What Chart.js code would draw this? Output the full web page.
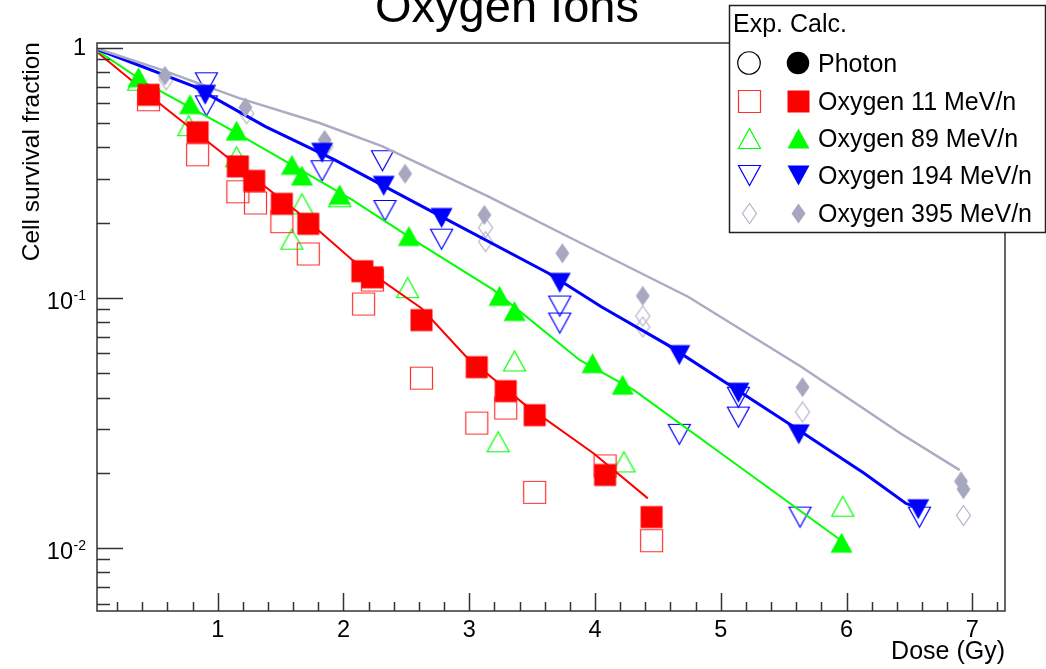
<!DOCTYPE html>
<html>
<head>
<meta charset="utf-8">
<title>Oxygen Ions</title>
<script src="https://cdn.jsdelivr.net/npm/chart.js@4.4.1/dist/chart.umd.min.js"></script>
<style>
  html, body { margin: 0; padding: 0; background: #fff; }
  canvas { display: block; }
</style>
</head>
<body>
<canvas id="survival-chart" width="1046" height="669"></canvas>
<script>
// Values (dose in Gy, survival fraction).
const chartTitle = "Oxygen Ions";
const xTitle = "Dose (Gy)";
const yTitle = "Cell survival fraction";
const xTickLabels = [1, 2, 3, 4, 5, 6, 7];
const yTickDecades = [0, -1, -2];
const legendHeader = "Exp. Calc.";
const legendLabels = ["Photon", "Oxygen 11 MeV/n", "Oxygen 89 MeV/n", "Oxygen 194 MeV/n", "Oxygen 395 MeV/n"];

// Oxygen 11 MeV/n
const o11ExpDose = [0.45, 0.84, 1.16, 1.30, 1.51, 1.72, 2.16, 2.23, 2.62, 3.06, 3.29, 3.52, 4.08, 4.45];
const o11ExpSurv = [0.621, 0.374, 0.266, 0.240, 0.202, 0.150, 0.0946, 0.118, 0.0478, 0.0316, 0.0363, 0.0167, 0.0213, 0.0107];
const o11CalcDose = [0.45, 0.84, 1.16, 1.29, 1.51, 1.72, 2.15, 2.23, 2.62, 3.06, 3.29, 3.52, 4.08, 4.45];
const o11CalcSurv = [0.650, 0.460, 0.336, 0.294, 0.238, 0.198, 0.128, 0.121, 0.0816, 0.0529, 0.0424, 0.0340, 0.0196, 0.0133];
const o11CurveDose = [0.05, 0.55, 1.07, 1.63, 2.07, 2.62, 2.97, 3.43, 3.99, 4.42];
const o11CurveSurv = [0.955, 0.593, 0.368, 0.222, 0.142, 0.0910, 0.0586, 0.0379, 0.0239, 0.0158];

// Oxygen 89 MeV/n
const o89ExpDose = [0.37, 0.77, 1.15, 1.59, 1.67, 1.97, 2.51, 3.23, 3.36, 4.23, 5.97];
const o89ExpSurv = [0.743, 0.489, 0.367, 0.172, 0.238, 0.254, 0.110, 0.0266, 0.0560, 0.0221, 0.0147];
const o89CalcDose = [0.37, 0.78, 1.15, 1.59, 1.67, 1.97, 2.52, 3.24, 3.36, 3.98, 4.22, 5.96];
const o89CalcSurv = [0.764, 0.596, 0.467, 0.341, 0.309, 0.259, 0.177, 0.102, 0.0887, 0.0549, 0.0450, 0.0105];
const o89CurveDose = [0.05, 0.45, 1.06, 1.52, 2.07, 2.62, 3.19, 3.88, 4.31, 5.08, 5.96];
const o89CurveSurv = [0.969, 0.713, 0.485, 0.357, 0.247, 0.163, 0.108, 0.0564, 0.0428, 0.0224, 0.0107];

// Oxygen 194 MeV/n
const o194ExpDose = [0.91, 0.91, 1.83, 2.31, 2.33, 2.78, 3.72, 3.72, 4.67, 5.14, 5.14, 5.63, 6.58];
const o194ExpSurv = [0.726, 0.587, 0.323, 0.354, 0.224, 0.172, 0.0929, 0.0794, 0.0285, 0.0401, 0.0334, 0.0133, 0.0133];
const o194CalcDose = [0.90, 1.83, 2.32, 2.78, 3.72, 4.67, 5.14, 5.62, 6.57];
const o194CalcSurv = [0.650, 0.381, 0.281, 0.209, 0.115, 0.0591, 0.0418, 0.0285, 0.0143];
const o194CurveDose = [0.05, 0.81, 1.38, 1.93, 2.70, 3.63, 4.05, 4.58, 5.05, 5.54, 6.14, 6.47, 6.53];
const o194CurveSurv = [0.984, 0.702, 0.485, 0.357, 0.222, 0.1256, 0.0923, 0.0648, 0.0455, 0.0315, 0.0199, 0.0151, 0.0147];

// Oxygen 395 MeV/n
const o395ExpDose = [0.59, 1.23, 1.86, 3.13, 3.13, 4.38, 4.38, 5.65, 6.93];
const o395ExpSurv = [0.746, 0.546, 0.403, 0.191, 0.168, 0.0847, 0.0766, 0.0350, 0.0135];
const o395CalcDose = [0.58, 1.22, 1.85, 2.49, 3.12, 3.74, 4.38, 5.65, 6.91, 6.93];
const o395CalcSurv = [0.774, 0.579, 0.429, 0.314, 0.215, 0.151, 0.102, 0.0440, 0.0185, 0.0172];
const o395CurveDose = [0.05, 0.55, 1.17, 1.81, 2.31, 3.15, 3.89, 4.74, 5.64, 6.43, 6.90];
const o395CurveSurv = [0.991, 0.819, 0.630, 0.501, 0.404, 0.255, 0.1656, 0.1012, 0.0531, 0.0287, 0.0205];

const FONT = '"Liberation Sans", Arial, Helvetica, sans-serif';
const RED = "#ff0000", GREEN = "#00ff00", BLUE = "#0000ff", GREY = "#a7a7bf";

function makeMarker(shape, w, h, color, filled) {
    // ROOT-like marker drawn once into a small canvas, used as a pointStyle.
    const c = document.createElement("canvas");
    c.width = w + 4;
    c.height = h + 4;
    const g = c.getContext("2d");
    g.translate(2, 2);
    g.beginPath();
    if (shape === "square") {
        g.rect(0.5, 0.5, w - 1, h - 1);
    } else if (shape === "up") {
        g.moveTo(w / 2, 0.5); g.lineTo(w - 0.5, h - 0.5); g.lineTo(0.5, h - 0.5); g.closePath();
    } else if (shape === "down") {
        g.moveTo(0.5, 0.5); g.lineTo(w - 0.5, 0.5); g.lineTo(w / 2, h - 0.5); g.closePath();
    } else if (shape === "diamond") {
        g.moveTo(w / 2, 0.5); g.lineTo(w - 0.5, h / 2); g.lineTo(w / 2, h - 0.5); g.lineTo(0.5, h / 2); g.closePath();
    } else {
        g.arc(w / 2, h / 2, w / 2 - 0.75, 0, 2 * Math.PI);
    }
    if (filled) {
        g.fillStyle = color;
        g.fill();
    } else {
        g.strokeStyle = color;
        g.lineWidth = 1.2;
        g.stroke();
    }
    return c;
}

const markers = {
    photon: { open: makeMarker("circle", 24, 24, "#000", false), filled: makeMarker("circle", 24, 24, "#000", true) },
    o11: { open: makeMarker("square", 23, 23, "#ff3030", false), filled: makeMarker("square", 23, 23, RED, true) },
    o89: { open: makeMarker("up", 23, 21, GREEN, false), filled: makeMarker("up", 23, 21, GREEN, true) },
    o194: { open: makeMarker("down", 23, 21, BLUE, false), filled: makeMarker("down", 23, 21, BLUE, true) },
    o395: { open: makeMarker("diamond", 15, 21, "#b4b4c8", false), filled: makeMarker("diamond", 15, 21, GREY, true) },
};

function pts(xs, ys) {
    return xs.map((x, i) => ({ x, y: ys[i] }));
}

function markerSet(xs, ys, style, order) {
    return { data: pts(xs, ys), pointStyle: style, pointRadius: 8, showLine: false, order };
}

function curveSet(xs, ys, color, width) {
    return {
        data: pts(xs, ys), showLine: true, borderColor: color, borderWidth: width,
        pointRadius: 0, tension: 0, order: 10,
    };
}

// lower order = drawn later (on top): filled calc markers over curves over open exp markers
const datasets = [
    markerSet(o395ExpDose, o395ExpSurv, markers.o395.open, 24),
    markerSet(o194ExpDose, o194ExpSurv, markers.o194.open, 23),
    markerSet(o89ExpDose, o89ExpSurv, markers.o89.open, 22),
    markerSet(o11ExpDose, o11ExpSurv, markers.o11.open, 21),
    curveSet(o395CurveDose, o395CurveSurv, "#ababc3", 2.5),
    curveSet(o194CurveDose, o194CurveSurv, BLUE, 3),
    curveSet(o89CurveDose, o89CurveSurv, GREEN, 2),
    curveSet(o11CurveDose, o11CurveSurv, RED, 2),
    markerSet(o395CalcDose, o395CalcSurv, markers.o395.filled, 4),
    markerSet(o194CalcDose, o194CalcSurv, markers.o194.filled, 3),
    markerSet(o89CalcDose, o89CalcSurv, markers.o89.filled, 2),
    markerSet(o11CalcDose, o11CalcSurv, markers.o11.filled, 1),
];

const rootFrame = {
    id: "rootFrame",
    afterDatasetsDraw(chart) {
        const { ctx, chartArea: a } = chart;
        const xs = chart.scales.x, ys = chart.scales.y;
        ctx.save();
        ctx.strokeStyle = "#333";
        ctx.lineWidth = 1.5;
        ctx.strokeRect(a.left, a.top, a.right - a.left, a.bottom - a.top);

        // y ticks, inside the frame: 1..9 per decade
        ctx.beginPath();
        for (let d = -3; d <= 0; d++) {
            for (let m = 1; m <= 9; m++) {
                const v = m * Math.pow(10, d);
                if (v < ys.min || v > ys.max) continue;
                const py = Math.round(ys.getPixelForValue(v)) + 0.5;
                ctx.moveTo(a.left, py);
                ctx.lineTo(a.left + (m === 1 ? 26 : 13), py);
            }
        }
        // x ticks every 0.2 Gy
        for (let k = 1; k * 0.2 <= xs.max; k++) {
            const v = k * 0.2;
            if (v < xs.min) continue;
            const px = Math.round(xs.getPixelForValue(v)) + 0.5;
            ctx.moveTo(px, a.bottom);
            ctx.lineTo(px, a.bottom - (k % 5 === 0 ? 18 : 9));
        }
        ctx.stroke();

        ctx.fillStyle = "#000";
        ctx.font = `23.5px ${FONT}`;
        ctx.textAlign = "center";
        ctx.textBaseline = "alphabetic";
        for (const t of xTickLabels) {
            ctx.fillText(String(t), xs.getPixelForValue(t), 637);
        }
        for (const d of yTickDecades) {
            const py = ys.getPixelForValue(Math.pow(10, d));
            ctx.font = `23.5px ${FONT}`;
            ctx.textAlign = "right";
            if (d === 0) {
                ctx.fillText("1", 86, py + 7.5);
            } else {
                ctx.fillText("10", 73, py + 10.5);
                ctx.font = `14px ${FONT}`;
                ctx.textAlign = "left";
                ctx.fillText(String(d), 73.5, py + 1.5);
            }
        }

        ctx.font = `25px ${FONT}`;
        ctx.textAlign = "right";
        ctx.fillText(xTitle, a.right, 659);

        ctx.save();
        ctx.translate(39, a.top - 1);
        ctx.rotate(-Math.PI / 2);
        ctx.font = `24.5px ${FONT}`;
        ctx.textAlign = "right";
        ctx.fillText(yTitle, 0, 0);
        ctx.restore();

        ctx.font = `47px ${FONT}`;
        ctx.textAlign = "center";
        ctx.fillText(chartTitle, 507, 22);
        ctx.restore();
    },
    afterDraw(chart) {
        // two-column legend: open = Exp., filled = Calc.
        const ctx = chart.ctx;
        const box = { x: 729.5, y: 5.5, w: 316, h: 227 };
        const rowY = [63, 101, 138, 175, 213];
        const keys = ["photon", "o11", "o89", "o194", "o395"];
        ctx.save();
        ctx.fillStyle = "#fff";
        ctx.fillRect(box.x, box.y, box.w, box.h);
        ctx.strokeStyle = "#222";
        ctx.lineWidth = 1.5;
        ctx.strokeRect(box.x, box.y, box.w, box.h);
        ctx.fillStyle = "#000";
        ctx.font = `25px ${FONT}`;
        ctx.textAlign = "left";
        ctx.textBaseline = "alphabetic";
        ctx.fillText(legendHeader, 733, 32);
        keys.forEach((k, i) => {
            const y = rowY[i];
            const o = markers[k].open, f = markers[k].filled;
            ctx.drawImage(o, Math.round(749 - o.width / 2), Math.round(y - o.height / 2));
            ctx.drawImage(f, Math.round(798 - f.width / 2), Math.round(y - f.height / 2));
            ctx.fillText(legendLabels[i], 818, y + 8.5);
        });
        ctx.restore();
    },
};

function initChart() {
    const canvas = document.getElementById("survival-chart");
    new Chart(canvas, {
        type: "scatter",
        data: { datasets },
        plugins: [rootFrame],
        options: {
            responsive: false,
            devicePixelRatio: 1,
            animation: false,
            events: [],
            layout: { padding: { left: 97, right: 41, top: 43, bottom: 58 } },
            plugins: { legend: { display: false }, tooltip: { enabled: false }, title: { display: false } },
            scales: {
                x: { type: "linear", min: 0.04, max: 7.26, display: false },
                y: { type: "logarithmic", min: 0.0056, max: 1.047, display: false },
            },
        },
    });
}

if (document.readyState === "loading") {
    document.addEventListener("DOMContentLoaded", initChart);
} else {
    initChart();
}
</script>
</body>
</html>
